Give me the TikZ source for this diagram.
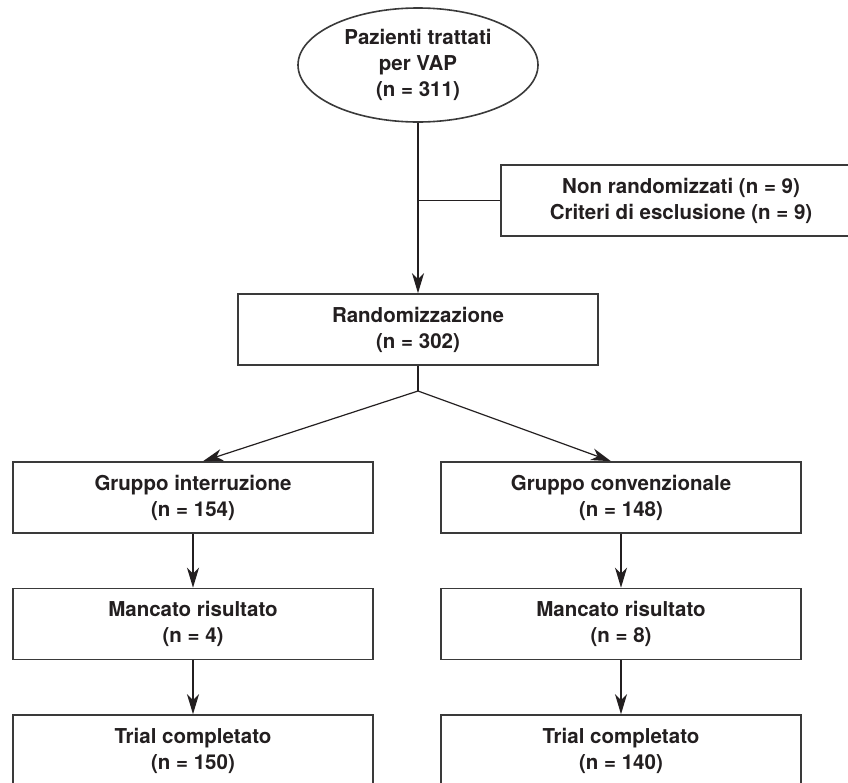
\documentclass[tikz,border=0pt]{standalone}
\usepackage{fontspec}
\setmainfont{TeX Gyre Heros}
\usetikzlibrary{arrows.meta,shapes.geometric}
\definecolor{ink}{HTML}{231F20}
\definecolor{edge}{HTML}{3A3A3A}
\tikzset{
  boxnode/.style={draw=edge, line width=1.6pt, fill=white, minimum width=360pt, minimum height=71pt,
    align=center, inner sep=0pt, text=ink, font=\fontsize{20.5pt}{26pt}\selectfont\bfseries},
  ellnode/.style={ellipse, draw=edge, line width=1.6pt, fill=white, minimum width=240pt, minimum height=114pt,
    align=center, inner sep=0pt, text=ink, font=\fontsize{20.5pt}{26pt}\selectfont\bfseries},
  conn/.style={draw=ink, line width=1.2pt},
  arr/.style={conn, -{Stealth[length=20pt, width=12pt, inset=6pt]}}
}
\begin{document}
\begin{tikzpicture}[x=1pt, y=-1pt]
\useasboundingbox (0,0) rectangle (848,782);
\clip (0,0) rectangle (848,782);
\node[ellnode] (ell) at (418,65) {Pazienti trattati\\per VAP\\(n = 311)};
\node[boxnode] (excl) at (681,200.5) {Non randomizzati (n = 9)\\Criteri di esclusione (n = 9)};
\node[boxnode] (rand) at (418,329.5) {Randomizzazione\\(n = 302)};
\node[boxnode] (g1) at (193,497.5) {Gruppo interruzione\\(n = 154)};
\node[boxnode] (g2) at (621,497.5) {Gruppo convenzionale\\(n = 148)};
\node[boxnode] (m1) at (193,624) {Mancato risultato\\(n = 4)};
\node[boxnode] (m2) at (621,624) {Mancato risultato\\(n = 8)};
\node[boxnode] (t1) at (193,750.5) {Trial completato\\(n = 150)};
\node[boxnode] (t2) at (621,750.5) {Trial completato\\(n = 140)};
\coordinate (split) at (418,391);
\coordinate (side) at (ell.south |- excl.west);
\draw[arr] (ell.south) -- (rand.north);
\draw[conn] (side) -- (excl.west);
\draw[conn] (rand.south) -- (split);
\draw[arr] (split) -- ([xshift=10pt]g1.north);
\draw[arr] (split) -- ([xshift=-10pt]g2.north);
\draw[arr] (g1.south) -- (m1.north);
\draw[arr] (g2.south) -- (m2.north);
\draw[arr] (m1.south) -- (t1.north);
\draw[arr] (m2.south) -- (t2.north);
\end{tikzpicture}
\end{document}
